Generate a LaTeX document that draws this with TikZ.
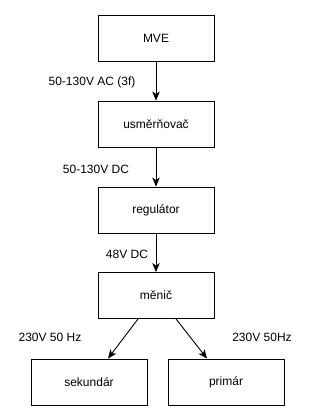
\documentclass[tikz,border=0pt]{standalone}
\usepackage{fontspec}
\setmainfont{Liberation Sans}
\usetikzlibrary{arrows.meta}
\begin{document}
\begin{tikzpicture}[x=1pt,y=-1pt,
  blk/.style={draw=black,line width=0.9pt,minimum width=116pt,minimum height=46pt,inner sep=0pt,font=\fontsize{12}{14}\selectfont},
  lbl/.style={inner sep=0pt,font=\fontsize{12}{14}\selectfont},
  conn/.style={draw=black,line width=0.9pt,-{Stealth[length=9pt,width=7.5pt,inset=2.5pt]}}]
\useasboundingbox[fill=white] (0,0) rectangle (310,420);
\node[blk] (mve) at (156,38) {MVE};
\node[blk] (usm) at (156,124) {usměrňovač};
\node[blk] (reg) at (156,210) {regulátor};
\node[blk] (men) at (156,295.5) {měnič};
\node[blk] (sek) at (89,382) {sekundár};
\node[blk] (pri) at (226,382) {primár};
\draw[conn] (mve) -- (usm);
\draw[conn] (usm) -- (reg);
\draw[conn] (reg) -- (men);
\draw[conn] (men.south -| 138,0) -- (sek.north -| 108,0);
\draw[conn] (men.south -| 176,0) -- (pri.north -| 207,0);
\node[lbl] (l1) at (92,82) {50-130V AC (3f)};
\node[lbl] (l2) at (96,169) {50-130V DC};
\node[lbl] (l3) at (127,254) {48V DC};
\node[lbl] (l4) at (50,337) {230V 50 Hz};
\node[lbl] (l5) at (262,337) {230V 50Hz};
\end{tikzpicture}
\end{document}
